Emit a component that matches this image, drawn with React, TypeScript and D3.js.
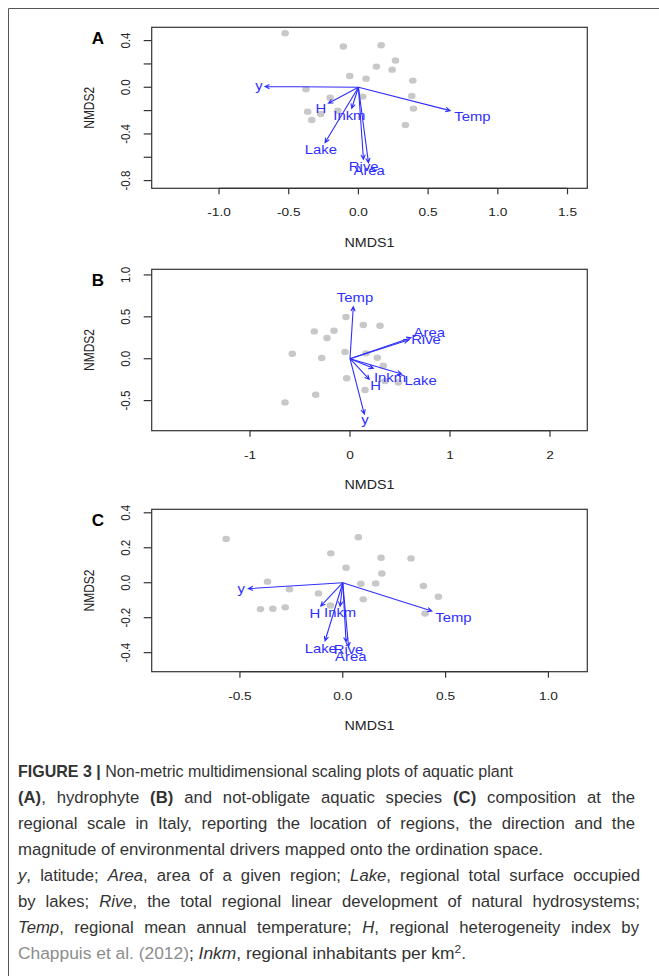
import React, { useRef, useEffect } from "react";
import * as d3 from "d3";

// --- panel A: aquatic plants ---
const aSiteX = [-0.526, -0.108, 0.163, 0.266, 0.129, 0.242, -0.062, 0.055, 0.39, -0.376, 0.383, 0.031, -0.203, 0.395, -0.364, -0.148, -0.27, -0.335, 0.337];
const aSiteY = [0.463, 0.349, 0.36, 0.229, 0.177, 0.151, 0.097, 0.074, 0.057, -0.017, -0.074, -0.08, -0.089, -0.183, -0.209, -0.2, -0.229, -0.28, -0.323];
const aVars = ["y", "H", "Inkm", "Lake", "Rive", "Area", "Temp"];
const aArrowX = [-0.67, -0.215, -0.048, -0.239, 0.036, 0.072, 0.658];
const aArrowY = [0.006, -0.137, -0.18, -0.474, -0.617, -0.646, -0.2];
const aLabelX = [-0.713, -0.27, -0.065, -0.27, 0.038, 0.077, 0.818];
const aLabelY = [0.017, -0.18, -0.246, -0.537, -0.68, -0.717, -0.251];
const aXTicks = [-1.0, -0.5, 0.0, 0.5, 1.0, 1.5];
const aXTickLabels = ["-1.0", "-0.5", "0.0", "0.5", "1.0", "1.5"];
const aYTicks = [0.4, 0.2, 0.0, -0.2, -0.4, -0.6, -0.8];
const aYTickLabels = ["0.4", "", "0.0", "", "-0.4", "", "-0.8"];

// --- panel B: hydrophytes ---
const bSiteX = [-0.04, 0.133, 0.3, -0.357, -0.16, -0.23, -0.577, -0.05, 0.16, -0.283, 0.273, 0.333, 0.35, 0.483, -0.033, 0.15, -0.343, -0.65];
const bSiteY = [0.497, 0.402, 0.394, 0.326, 0.334, 0.247, 0.06, 0.08, 0.064, 0.008, 0.012, -0.084, -0.267, -0.283, -0.234, -0.374, -0.43, -0.521];
const bVars = ["Temp", "Area", "Rive", "Lake", "Inkm", "H", "y"];
const bArrowX = [0.033, 0.61, 0.583, 0.517, 0.233, 0.193, 0.143];
const bArrowY = [0.621, 0.251, 0.223, -0.183, -0.115, -0.247, -0.66];
const bLabelX = [0.05, 0.793, 0.76, 0.707, 0.4, 0.257, 0.15];
const bLabelY = [0.728, 0.31, 0.231, -0.263, -0.223, -0.326, -0.724];
const bXTicks = [-1, 0, 1, 2];
const bXTickLabels = ["-1", "0", "1", "2"];
const bYTicks = [1.0, 0.5, 0.0, -0.5];
const bYTickLabels = ["1.0", "0.5", "0.0", "-0.5"];

// --- panel C: not-obligate aquatic species ---
const cSiteX = [-0.567, 0.076, -0.058, 0.186, 0.332, 0.016, 0.19, -0.366, 0.088, 0.16, 0.392, -0.259, -0.118, 0.465, 0.1, -0.4, -0.34, -0.28, -0.06, 0.4];
const cSiteY = [0.25, 0.26, 0.168, 0.143, 0.139, 0.086, 0.053, 0.006, -0.006, -0.004, -0.019, -0.038, -0.061, -0.08, -0.095, -0.151, -0.149, -0.141, -0.13, -0.176];
const cVars = ["y", "H", "Inkm", "Lake", "Rive", "Area", "Temp"];
const cArrowX = [-0.459, -0.107, -0.013, -0.086, 0.016, 0.028, 0.433];
const cArrowY = [-0.034, -0.134, -0.134, -0.332, -0.338, -0.366, -0.162];
const cLabelX = [-0.494, -0.136, -0.013, -0.107, 0.028, 0.039, 0.538];
const cLabelY = [-0.032, -0.176, -0.172, -0.376, -0.385, -0.424, -0.202];
const cXTicks = [-0.5, 0.0, 0.5, 1.0];
const cXTickLabels = ["-0.5", "0.0", "0.5", "1.0"];
const cYTicks = [0.4, 0.2, 0.0, -0.2, -0.4];
const cYTickLabels = ["0.4", "0.2", "0.0", "-0.2", "-0.4"];

const captionLines = [
  [{ t: "FIGURE 3 | ", b: true }, { t: "Non-metric multidimensional scaling plots of aquatic plant" }],
  [{ t: "(A)", b: true }, { t: ", hydrophyte " }, { t: "(B)", b: true }, { t: " and not-obligate aquatic species " }, { t: "(C)", b: true }, { t: " composition at the" }],
  [{ t: "regional scale in Italy, reporting the location of regions, the direction and the" }],
  [{ t: "magnitude of environmental drivers mapped onto the ordination space." }],
  [{ t: "y", i: true }, { t: ", latitude; " }, { t: "Area", i: true }, { t: ", area of a given region; " }, { t: "Lake", i: true }, { t: ", regional total surface occupied" }],
  [{ t: "by lakes; " }, { t: "Rive", i: true }, { t: ", the total regional linear development of natural hydrosystems;" }],
  [{ t: "Temp", i: true }, { t: ", regional mean annual temperature; " }, { t: "H", i: true }, { t: ", regional heterogeneity index by" }],
  [{ t: "Chappuis et al. (2012)", c: "#8c8c8c" }, { t: "; " }, { t: "Inkm", i: true }, { t: ", regional inhabitants per km" }, { t: "2", sup: true }, { t: ".", down: true }],
];
// right end of each caption line in the reference; justified lines are flagged
const captionEnds = [513, 635, 635, 543, 640, 640, 639, 466];
const captionJustified = [false, true, true, false, true, true, true, false];

const panels = [
  { tag: "A", top: 27.3, bottom: 188.3, xDom: [-1.483, 1.642], yDom: [-0.866, 0.514], sx: aSiteX, sy: aSiteY, vars: aVars, ax: aArrowX, ay: aArrowY, lx: aLabelX, ly: aLabelY, xt: aXTicks, xtl: aXTickLabels, yt: aYTicks, ytl: aYTickLabels },
  { tag: "B", top: 269.3, bottom: 430.7, xDom: [-1.983, 2.373], yDom: [-0.859, 1.067], sx: bSiteX, sy: bSiteY, vars: bVars, ax: bArrowX, ay: bArrowY, lx: bLabelX, ly: bLabelY, xt: bXTicks, xtl: bXTickLabels, yt: bYTicks, ytl: bYTickLabels },
  { tag: "C", top: 509.3, bottom: 671.7, xDom: [-0.929, 1.189], yDom: [-0.509, 0.42], sx: cSiteX, sy: cSiteY, vars: cVars, ax: cArrowX, ay: cArrowY, lx: cLabelX, ly: cLabelY, xt: cXTicks, xtl: cXTickLabels, yt: cYTicks, ytl: cYTickLabels },
];

const width = 659;
const height = 976;
const left = 151.7;
const right = 587.3;
const stretch = 1.19; // the original figure was widened a bit
const blue = "#2f2fff";
const font = "Liberation Sans, Arial, sans-serif";

export default function App() {
  const svgRef = useRef(null);

  useEffect(() => {
    const svg = d3.select(svgRef.current);
    svg.selectAll("*").remove();

    const txt = (g: any, s: string, x: number, y: number, size: number, rot = 0) =>
      g.append("text")
        .attr("transform", `translate(${x},${y}) scale(${stretch},1)` + (rot ? ` rotate(${rot})` : ""))
        .attr("text-anchor", "middle")
        .attr("dy", "0.35em")
        .style("font-family", font)
        .style("font-size", size + "px")
        .text(s);

    // outer frame (only top and left edge visible in the crop)
    svg.append("path")
      .attr("d", `M8.5,${height}V8.5H${width}`)
      .attr("fill", "none").attr("stroke", "#555").attr("stroke-width", 1);

    panels.forEach(p => {
      const x = d3.scaleLinear().domain(p.xDom).range([left, right]);
      const y = d3.scaleLinear().domain(p.yDom).range([p.bottom, p.top]);
      const g = svg.append("g");

      // sites
      g.selectAll("ellipse").data(p.sx).join("ellipse")
        .attr("cx", (d: number) => x(d))
        .attr("cy", (d: number, i: number) => y(p.sy[i]))
        .attr("rx", 3.8).attr("ry", 3.2)
        .attr("fill", "#c8c8c8");

      // box
      g.append("rect")
        .attr("x", left).attr("y", p.top)
        .attr("width", right - left).attr("height", p.bottom - p.top)
        .attr("fill", "none").attr("stroke", "#333").attr("stroke-width", 1.2);

      // x axis
      g.append("line")
        .attr("x1", x(p.xt[0])).attr("x2", x(p.xt[p.xt.length - 1]))
        .attr("y1", p.bottom).attr("y2", p.bottom)
        .attr("stroke", "#333").attr("stroke-width", 1.2);
      p.xt.forEach((t: number, i: number) => {
        g.append("line").attr("x1", x(t)).attr("x2", x(t)).attr("y1", p.bottom).attr("y2", p.bottom + 6)
          .attr("stroke", "#333").attr("stroke-width", 1.2);
        txt(g, p.xtl[i], x(t), p.bottom + 24, 11.5).attr("fill", "#222");
      });

      // y axis
      p.yt.forEach((t: number, i: number) => {
        g.append("line").attr("x1", left - 8).attr("x2", left).attr("y1", y(t)).attr("y2", y(t))
          .attr("stroke", "#333").attr("stroke-width", 1.2);
        if (p.ytl[i]) txt(g, p.ytl[i], 125.5, y(t), 11.5, -90).attr("fill", "#222");
      });

      txt(g, "NMDS1", (left + right) / 2, p.bottom + 54, 12, 0).attr("fill", "#222");
      txt(g, "NMDS2", 89, (p.top + p.bottom) / 2, 12, -90).attr("fill", "#222");

      g.append("text")
        .attr("x", 98).attr("y", p.top + 17)
        .attr("text-anchor", "middle")
        .style("font-family", font).style("font-size", "17px").style("font-weight", "bold")
        .text(p.tag);

      // environmental vectors
      const x0 = x(0), y0 = y(0);
      p.vars.forEach((v: string, i: number) => {
        const x1 = x(p.ax[i]), y1 = y(p.ay[i]);
        const ang = Math.atan2(y1 - y0, x1 - x0);
        const hl = 5, ha = Math.PI / 7;
        const path = d3.path();
        path.moveTo(x0, y0);
        path.lineTo(x1, y1);
        path.moveTo(x1 - hl * Math.cos(ang - ha), y1 - hl * Math.sin(ang - ha));
        path.lineTo(x1, y1);
        path.lineTo(x1 - hl * Math.cos(ang + ha), y1 - hl * Math.sin(ang + ha));
        g.append("path").attr("d", path.toString())
          .attr("fill", "none").attr("stroke", blue).attr("stroke-width", 1.1);
        txt(g, v, x(p.lx[i]), y(p.ly[i]), 12.5).attr("fill", blue);
      });
    });

    // caption (justified block)
    const cap = svg.append("g");
    captionLines.forEach((line: any[], li: number) => {
      const t = cap.append("text")
        .attr("x", 18).attr("y", 777 + li * 26)
        .style("font-family", font).style("font-size", "16.7px").attr("fill", "#333");
      line.forEach(seg => {
        const s = t.append("tspan").text(seg.t);
        if (seg.b) s.style("font-weight", "bold");
        if (seg.i) s.style("font-style", "italic");
        if (seg.c) s.attr("fill", seg.c);
        if (seg.sup) s.attr("dy", -6).style("font-size", "11.5px");
        if (seg.down) s.attr("dy", 6);
      });
      const target = captionEnds[li] - 18;
      const natural = (t.node() as any).getComputedTextLength();
      if (captionJustified[li] && natural < target) {
        const spaces = line.map(s => s.t).join("").split(" ").length - 1;
        t.style("word-spacing", ((target - natural) / spaces) + "px");
      } else {
        t.attr("textLength", target).attr("lengthAdjust", "spacingAndGlyphs");
      }
    });
  }, []);

  return (
    <svg ref={svgRef} width={width} height={height}
      style={{ position: "absolute", left: 0, top: 0, background: "#fff" }} />
  );
}
